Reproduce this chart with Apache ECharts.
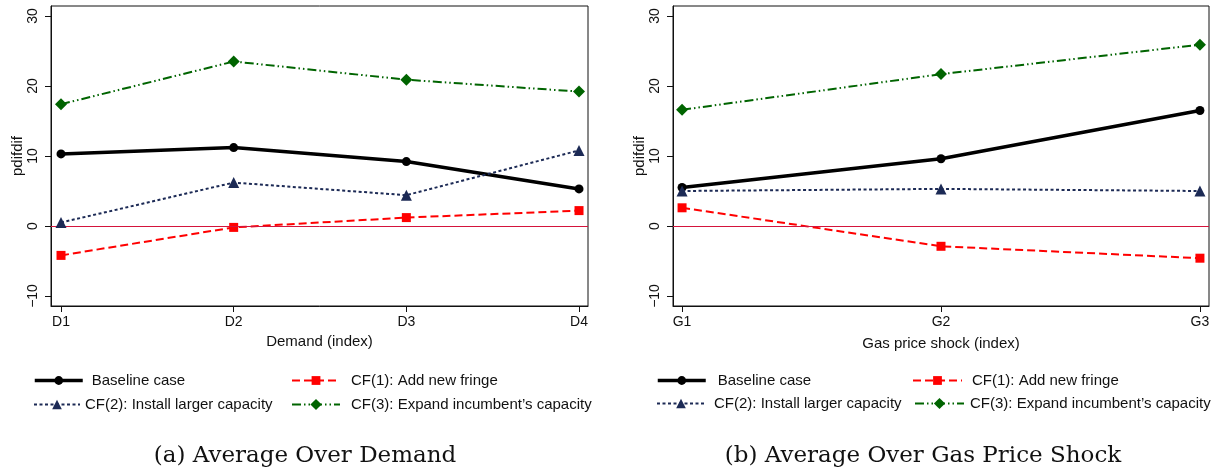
<!DOCTYPE html>
<html>
<head>
<meta charset="utf-8">
<script src="https://cdn.jsdelivr.net/npm/echarts@6/dist/echarts.min.js"></script>
<style>
  html, body { margin: 0; padding: 0; background: #fff; }
  #main { width: 1215px; height: 474px; }
</style>
</head>
<body>
<div id="main"></div>
<script>
// categories
var demandCats = ['D1', 'D2', 'D3', 'D4'];
var gasCats = ['G1', 'G2', 'G3'];
var yTicks = [-10, 0, 10, 20, 30];

// panel (a): average over demand
var demandBaseline = [10.3, 11.2, 9.2, 5.3];
var demandCF1 = [-4.2, -0.2, 1.2, 2.2];
var demandCF2 = [0.5, 6.2, 4.4, 10.8];
var demandCF3 = [17.4, 23.5, 20.9, 19.2];

// panel (b): average over gas price shock
var gasBaseline = [5.5, 9.6, 16.5];
var gasCF1 = [2.6, -2.9, -4.6];
var gasCF2 = [5.0, 5.3, 5.0];
var gasCF3 = [16.6, 21.7, 25.9];

var seriesNames = ['Baseline case', 'CF(1): Add new fringe',
    'CF(2): Install larger capacity', 'CF(3): Expand incumbent\u2019s capacity'];

var chart = echarts.init(document.getElementById('main'));
var sans = 'Liberation Sans, Arial, sans-serif';

// 线型
var styles = [
    {color: '#000000', width: 3.5, type: 'solid', symbol: 'circle', size: 9, legendH: 11},
    {color: '#ff0000', width: 2, type: [8, 4], symbol: 'rect', size: 9, legendH: 11},
    {color: '#1c2a55', width: 2, type: [3, 2.5], symbol: 'triangle', size: 11, legendH: 12},
    {color: '#006400', width: 2, type: [9, 3, 1.5, 3, 1.5, 3], symbol: 'diamond', size: 12, legendH: 14}
];

function pairs(vals) {
    return vals.map(function (v, i) { return [i + 1, v]; });
}

function makeSeries(idx, vals, k) {
    var s = styles[k];
    return {
        name: seriesNames[k],
        type: 'line',
        xAxisIndex: idx,
        yAxisIndex: idx,
        data: pairs(vals),
        symbol: s.symbol,
        symbolSize: s.size,
        z: 3 + k,
        itemStyle: {color: s.color},
        lineStyle: {color: s.color, width: s.width, type: s.type}
    };
}

function zeroLine(idx) {
    return {
        name: '_zero' + idx,
        type: 'line',
        xAxisIndex: idx,
        yAxisIndex: idx,
        data: [],
        z: 1,
        markLine: {
            silent: true,
            symbol: 'none',
            label: {show: false},
            lineStyle: {color: '#d4143c', width: 1, type: 'solid'},
            data: [{yAxis: 0}]
        }
    };
}

function xAxis(idx, cats, min, max, name, gap) {
    var pos = cats.map(function (c, i) { return i + 1; });
    return {
        type: 'value',
        gridIndex: idx,
        min: min,
        max: max,
        name: name,
        nameLocation: 'middle',
        nameGap: gap,
        nameTextStyle: {fontFamily: sans, fontSize: 15, color: '#111'},
        splitLine: {show: false},
        axisLine: {onZero: false, lineStyle: {color: '#111', width: 1}},
        axisTick: {length: 6, lineStyle: {color: '#111'}, customValues: pos},
        axisLabel: {fontFamily: sans, fontSize: 14, color: '#111', margin: 9,
            customValues: pos,
            formatter: function (v) { return cats[Math.round(v) - 1]; }}
    };
}

function yAxis(idx) {
    return {
        type: 'value',
        gridIndex: idx,
        min: -11.43,
        max: 31.43,
        name: 'pdifdif',
        nameLocation: 'middle',
        nameGap: 26,
        nameRotate: 90,
        nameTextStyle: {fontFamily: sans, fontSize: 15, color: '#111'},
        splitLine: {show: false},
        axisLine: {show: true, onZero: false, lineStyle: {color: '#111', width: 1}},
        axisTick: {show: true, length: 6, lineStyle: {color: '#111'}, customValues: yTicks},
        axisLabel: {fontFamily: sans, fontSize: 14, color: '#111', rotate: 90, margin: 11,
            customValues: yTicks,
            formatter: function (v) { return String(v).replace('-', '\u2212'); }}
    };
}

// 图例：每项单独定位
var legendPos = [
    // [series, left, top, itemWidth, pad]
    [0, 33, 373, 48, 4],
    [1, 291, 373, 48, 6],
    [2, 33, 397, 46, 0],
    [3, 291, 397, 48, 6],
    [0, 656, 373, 48, 7],
    [1, 912, 373, 49, 5],
    [2, 656, 396, 48, 4],
    [3, 914, 396, 49, 1]
];

var legends = legendPos.map(function (p) {
    var s = styles[p[0]];
    return {
        data: [seriesNames[p[0]]],
        left: p[1],
        top: p[2],
        padding: 0,
        itemWidth: p[3],
        itemHeight: s.legendH,
        selectedMode: false,
        lineStyle: {width: s.width, type: s.type, color: s.color},
        textStyle: {fontFamily: sans, fontSize: 15, color: '#111', padding: [0, 0, 0, p[4]]}
    };
});

var option = {
    animation: false,
    backgroundColor: '#fff',
    title: [
        {text: '(a) Average Over Demand', left: 300, top: 440, textAlign: 'center',
            textStyle: {fontFamily: 'DejaVu Serif, serif', fontSize: 23, fontWeight: 'normal', color: '#111'}},
        {text: '(b) Average Over Gas Price Shock', left: 918, top: 440, textAlign: 'center',
            textStyle: {fontFamily: 'DejaVu Serif, serif', fontSize: 23, fontWeight: 'normal', color: '#111'}}
    ],
    legend: legends,
    grid: [
        {left: 51, top: 6, width: 537, height: 300, show: true, borderColor: '#111', borderWidth: 1, backgroundColor: '#fff'},
        {left: 673, top: 6, width: 536, height: 300, show: true, borderColor: '#111', borderWidth: 1, backgroundColor: '#fff'}
    ],
    xAxis: [
        xAxis(0, demandCats, 0.942, 4.052, 'Demand (index)', 27),
        xAxis(1, gasCats, 0.965, 3.035, 'Gas price shock (index)', 30)
    ],
    yAxis: [yAxis(0), yAxis(1)],
    series: [
        zeroLine(0),
        makeSeries(0, demandBaseline, 0),
        makeSeries(0, demandCF1, 1),
        makeSeries(0, demandCF2, 2),
        makeSeries(0, demandCF3, 3),
        zeroLine(1),
        makeSeries(1, gasBaseline, 0),
        makeSeries(1, gasCF1, 1),
        makeSeries(1, gasCF2, 2),
        makeSeries(1, gasCF3, 3)
    ]
};

chart.setOption(option);
</script>
</body>
</html>
